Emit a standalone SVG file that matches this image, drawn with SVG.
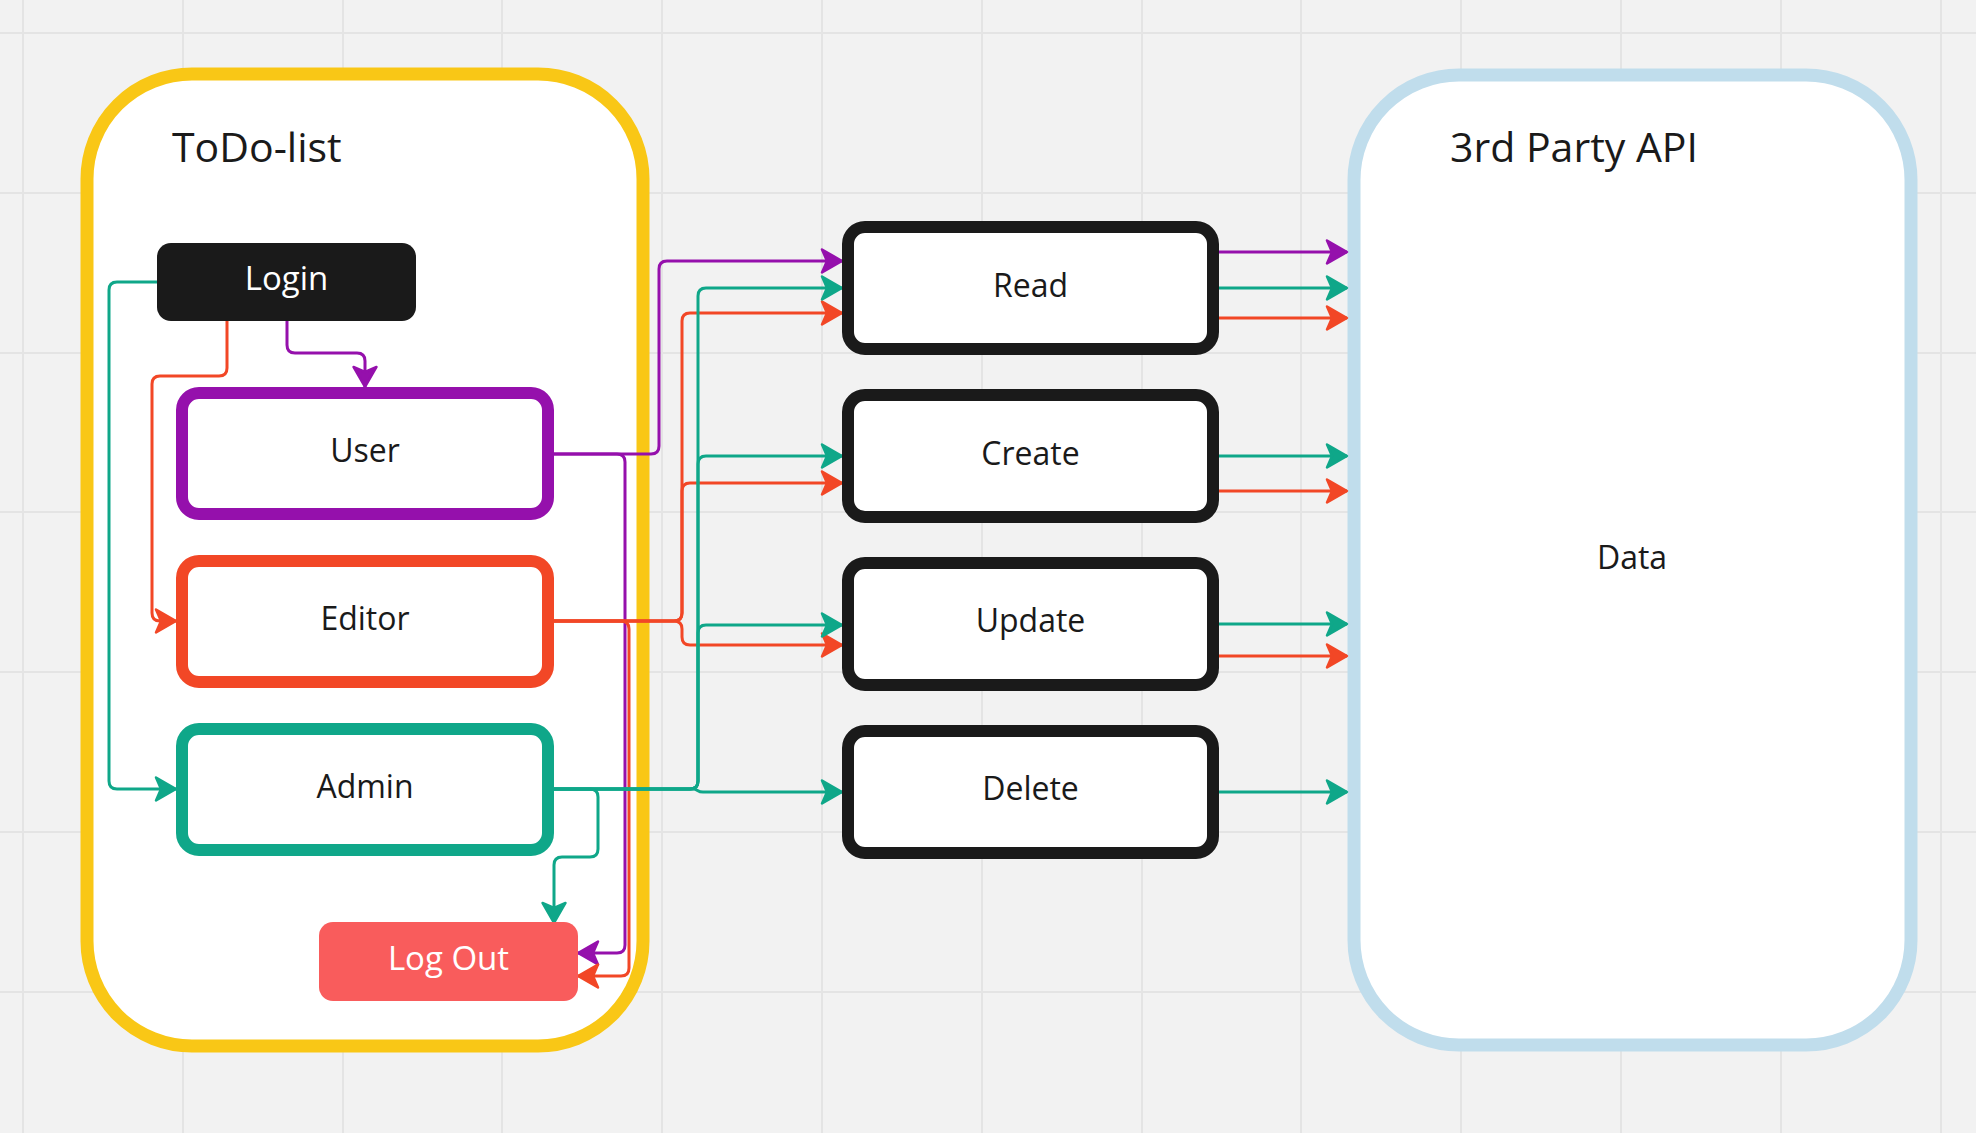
<svg xmlns="http://www.w3.org/2000/svg" width="1976" height="1133" viewBox="0 0 1976 1133">
  <style>
    text { font-family: "Open Sans", "Liberation Sans", sans-serif; }
    .grid line { stroke: #e4e4e4; stroke-width: 2; }
    .lbl { font-size: 32px; fill: #1a1a1a; text-anchor: middle; }
    .title { font-size: 41px; fill: #1a1a1a; }
    .wlbl { font-size: 33px; fill: #ffffff; text-anchor: middle; }
    .box { fill: #ffffff; stroke: #1a1a1a; stroke-width: 12; }
    .c { fill: none; stroke-width: 3; stroke-linejoin: round; }
    .p { stroke: #9510AC; marker-end: url(#ap); }
    .r { stroke: #F24726; marker-end: url(#ar); }
    .t { stroke: #0FA789; marker-end: url(#at); }
  </style>
  <defs>
    <marker id="ap" markerUnits="userSpaceOnUse" viewBox="-2 -14 26 28" markerWidth="26" markerHeight="28" refX="20" refY="0" orient="auto">
      <path d="M0,-11.5 L20,0 L0,11.5 L5,0 Z" fill="#9510AC" stroke="#9510AC" stroke-width="2.5" stroke-linejoin="round"/>
    </marker>
    <marker id="ar" markerUnits="userSpaceOnUse" viewBox="-2 -14 26 28" markerWidth="26" markerHeight="28" refX="20" refY="0" orient="auto">
      <path d="M0,-11.5 L20,0 L0,11.5 L5,0 Z" fill="#F24726" stroke="#F24726" stroke-width="2.5" stroke-linejoin="round"/>
    </marker>
    <marker id="at" markerUnits="userSpaceOnUse" viewBox="-2 -14 26 28" markerWidth="26" markerHeight="28" refX="20" refY="0" orient="auto">
      <path d="M0,-11.5 L20,0 L0,11.5 L5,0 Z" fill="#0FA789" stroke="#0FA789" stroke-width="2.5" stroke-linejoin="round"/>
    </marker>
  </defs>

  <rect x="0" y="0" width="1976" height="1133" fill="#f2f2f2"/>
  <g class="grid">
    <line x1="23" y1="0" x2="23" y2="1133"/>
    <line x1="183" y1="0" x2="183" y2="1133"/>
    <line x1="343" y1="0" x2="343" y2="1133"/>
    <line x1="502" y1="0" x2="502" y2="1133"/>
    <line x1="662" y1="0" x2="662" y2="1133"/>
    <line x1="822" y1="0" x2="822" y2="1133"/>
    <line x1="982" y1="0" x2="982" y2="1133"/>
    <line x1="1142" y1="0" x2="1142" y2="1133"/>
    <line x1="1301" y1="0" x2="1301" y2="1133"/>
    <line x1="1461" y1="0" x2="1461" y2="1133"/>
    <line x1="1621" y1="0" x2="1621" y2="1133"/>
    <line x1="1781" y1="0" x2="1781" y2="1133"/>
    <line x1="1941" y1="0" x2="1941" y2="1133"/>
    <line x1="0" y1="33" x2="1976" y2="33"/>
    <line x1="0" y1="193" x2="1976" y2="193"/>
    <line x1="0" y1="353" x2="1976" y2="353"/>
    <line x1="0" y1="512" x2="1976" y2="512"/>
    <line x1="0" y1="672" x2="1976" y2="672"/>
    <line x1="0" y1="832" x2="1976" y2="832"/>
    <line x1="0" y1="992" x2="1976" y2="992"/>
  </g>

  <g id="todo-list">
    <rect x="87" y="74" width="556" height="972" rx="105" ry="105" fill="#ffffff" stroke="#F9C716" stroke-width="13"/>
    <text class="title" x="172" y="162">ToDo-list</text>
  </g>

  <g id="third-party-api">
    <rect x="1354" y="75" width="557" height="970" rx="105" ry="105" fill="#ffffff" stroke="#C0DDEC" stroke-width="13"/>
    <text class="title" x="1450" y="162">3rd Party API</text>
    <text class="lbl" x="1632" y="569">Data</text>
  </g>

  <g id="connectors">
    <!-- Login -> Admin / Editor / User -->
    <path class="c t" d="M157,282 H117 Q109,282 109,290 V781 Q109,789 117,789 H176"/>
    <path class="c r" d="M227,321 V368 Q227,376 219,376 H160 Q152,376 152,384 V613 Q152,621 160,621 H176"/>
    <path class="c p" d="M287,321 V345 Q287,353 295,353 H357 Q365,353 365,361 V387"/>
    <!-- User -->
    <path class="c p" d="M554,454 H651 Q659,454 659,446 V269 Q659,261 667,261 H842"/>
    <path class="c p" d="M554,454 H617 Q625,454 625,462 V945 Q625,953 617,953 H578"/>
    <!-- Editor -->
    <path class="c r" d="M554,621 H674 Q682,621 682,613 V321 Q682,313 690,313 H842"/>
    <path class="c r" d="M554,621 H674 Q682,621 682,613 V491 Q682,483 690,483 H842"/>
    <path class="c r" d="M554,621 H674 Q682,621 682,629 V637 Q682,645 690,645 H842"/>
    <path class="c r" d="M554,621 H621 Q629,621 629,629 V968 Q629,976 621,976 H578"/>
    <!-- Admin -->
    <path class="c t" d="M554,789 H690 Q698,789 698,781 V296 Q698,288 706,288 H842"/>
    <path class="c t" d="M554,789 H690 Q698,789 698,781 V464 Q698,456 706,456 H842"/>
    <path class="c t" d="M554,789 H690 Q698,789 698,781 V633 Q698,625 706,625 H842"/>
    <path class="c t" d="M554,789 H693 C698,789 697,792 703,792 H842"/>
    <path class="c t" d="M554,789 H590 Q598,789 598,797 V849 Q598,857 590,857 H562 Q554,857 554,865 V923"/>
    <!-- operations -> API -->
    <path class="c p" d="M1219,252 H1347"/>
    <path class="c t" d="M1219,288 H1347"/>
    <path class="c r" d="M1219,318 H1347"/>
    <path class="c t" d="M1219,456 H1347"/>
    <path class="c r" d="M1219,491 H1347"/>
    <path class="c t" d="M1219,624 H1347"/>
    <path class="c r" d="M1219,656 H1347"/>
    <path class="c t" d="M1219,792 H1347"/>
  </g>

  <g id="login">
    <rect x="157" y="243" width="259" height="78" rx="14" ry="14" fill="#1a1a1a"/>
    <text class="wlbl" x="286.5" y="290">Login</text>
  </g>
  <g id="user">
    <rect x="182" y="393" width="366" height="121" rx="17" ry="17" fill="#ffffff" stroke="#9510AC" stroke-width="12"/>
    <text class="lbl" x="365" y="462">User</text>
  </g>
  <g id="editor">
    <rect x="182" y="561" width="366" height="121" rx="17" ry="17" fill="#ffffff" stroke="#F24726" stroke-width="12"/>
    <text class="lbl" x="365" y="630">Editor</text>
  </g>
  <g id="admin">
    <rect x="182" y="729" width="366" height="121" rx="17" ry="17" fill="#ffffff" stroke="#0FA789" stroke-width="12"/>
    <text class="lbl" x="365" y="798">Admin</text>
  </g>
  <g id="logout">
    <rect x="319" y="922" width="259" height="79" rx="14" ry="14" fill="#F95C5C"/>
    <text class="wlbl" x="448.5" y="970">Log Out</text>
  </g>

  <g id="read">
    <rect class="box" x="848" y="227" width="365" height="122" rx="17" ry="17"/>
    <text class="lbl" x="1030.5" y="297">Read</text>
  </g>
  <g id="create">
    <rect class="box" x="848" y="395" width="365" height="122" rx="17" ry="17"/>
    <text class="lbl" x="1030.5" y="465">Create</text>
  </g>
  <g id="update">
    <rect class="box" x="848" y="563" width="365" height="122" rx="17" ry="17"/>
    <text class="lbl" x="1030.5" y="632">Update</text>
  </g>
  <g id="delete">
    <rect class="box" x="848" y="731" width="365" height="122" rx="17" ry="17"/>
    <text class="lbl" x="1030.5" y="800">Delete</text>
  </g>
</svg>
